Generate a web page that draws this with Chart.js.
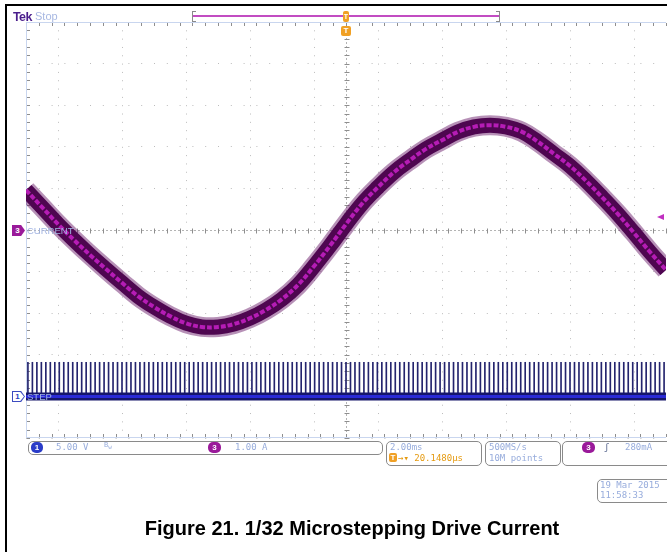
<!DOCTYPE html>
<html><head><meta charset="utf-8">
<script src="https://cdn.jsdelivr.net/npm/chart.js@4.4.1/dist/chart.umd.min.js"></script>
<style>
html,body{margin:0;padding:0;background:#fff;}
#wrap{position:relative;width:667px;height:552px;overflow:hidden;background:#fff;}
#c{position:absolute;left:0;top:0;}
.t{position:absolute;white-space:nowrap;font-family:'Liberation Sans',Arial,sans-serif;color:#a3b5e3;line-height:1;}
.m{font-family:'DejaVu Sans Mono',monospace;font-size:9px;color:#97acdc;}
.box{position:absolute;border:1px solid #8a8a8a;border-radius:5px;background:#fff;}
.badge{position:absolute;color:#fff;font:bold 8px 'Liberation Sans',sans-serif;text-align:center;line-height:11px;}
</style></head>
<body><div id="wrap">
<canvas id="c" width="667" height="552"></canvas>
<div style="position:absolute;left:5px;top:4px;width:700px;height:600px;border-top:2px solid #000;border-left:2px solid #000;"></div>

<div class="t" style="left:13px;top:10px;font:bold 12.5px 'Liberation Sans';color:#4b1e8c;letter-spacing:-0.6px">Tek</div>
<div class="t" style="left:35px;top:11px;font-size:11px;color:#a8b8e2">Stop</div>

<div style="position:absolute;left:193px;top:15px;width:306px;height:2px;background:#c24cc2"></div>
<div style="position:absolute;left:192px;top:11px;width:3px;height:9px;border:1px solid #8a8a8a;border-right:none"></div>
<div style="position:absolute;left:496px;top:11px;width:3px;height:9px;border:1px solid #8a8a8a;border-left:none"></div>
<div class="badge" style="left:343px;top:11px;width:6px;height:11px;background:#f0a024;border-radius:2px;line-height:11px;font-size:7px">T</div>
<div class="badge" style="left:341px;top:26px;width:10px;height:10px;background:#f0a024;border-radius:2px;line-height:10px">T</div>

<div class="badge" style="left:12px;top:225px;width:13px;height:11px;background:#9a1a9a;clip-path:polygon(0 0,70% 0,100% 50%,70% 100%,0 100%);text-indent:-2px">3</div>
<div class="t" style="left:27px;top:226px;font-size:9.5px">CURRENT</div>
<div style="position:absolute;left:657px;top:214px;width:0;height:0;border-right:7px solid #c030c0;border-top:3.5px solid transparent;border-bottom:3.5px solid transparent"></div>

<div class="badge" style="left:12px;top:391px;width:13px;height:11px;background:#3c4cc0;clip-path:polygon(0 0,70% 0,100% 50%,70% 100%,0 100%);"></div>
<div class="badge" style="left:13px;top:392px;width:11px;height:9px;background:#fff;color:#2a3cc0;clip-path:polygon(0 0,66% 0,100% 50%,66% 100%,0 100%);line-height:9px;text-indent:-2px">1</div>
<div class="t" style="left:27px;top:392px;font-size:9.5px">STEP</div>

<div class="box" style="left:28px;top:441px;width:353px;height:12px"></div>
<div class="badge" style="left:31px;top:442px;width:12px;height:11px;background:#2a3cc8;border-radius:5px">1</div>
<div class="t m" style="left:56px;top:443px">5.00 V</div>
<div class="t m" style="left:104px;top:442px;font-size:7px">B<sub style="font-size:6px">w</sub></div>
<div class="badge" style="left:208px;top:442px;width:13px;height:11px;background:#9a1a9a;border-radius:5px">3</div>
<div class="t m" style="left:235px;top:443px">1.00 A</div>

<div class="box" style="left:386px;top:441px;width:94px;height:23px"></div>
<div class="t m" style="left:390px;top:443px">2.00ms</div>
<div class="badge" style="left:389px;top:453px;width:8px;height:9px;background:#f0a024;border-radius:2px;line-height:9px">T</div>
<div class="t m" style="left:398px;top:454px;color:#e59a10">→▾ 20.1480µs</div>

<div class="box" style="left:485px;top:441px;width:74px;height:23px"></div>
<div class="t m" style="left:489px;top:443px">500MS/s</div>
<div class="t m" style="left:489px;top:454px">10M points</div>

<div class="box" style="left:562px;top:441px;width:110px;height:23px"></div>
<div class="badge" style="left:582px;top:442px;width:13px;height:11px;background:#9a1a9a;border-radius:5px">3</div>
<div class="t m" style="left:604px;top:443px;color:#55648c">ʃ</div>
<div class="t m" style="left:625px;top:443px">280mA</div>

<div class="box" style="left:597px;top:479px;width:80px;height:22px"></div>
<div class="t m" style="left:600px;top:481px">19 Mar 2015</div>
<div class="t m" style="left:600px;top:491px">11:58:33</div>

<div class="t" style="left:0;width:704px;text-align:center;top:517px;font:bold 20px 'Liberation Sans',Arial,sans-serif;color:#000">Figure 21. 1/32 Microstepping Drive Current</div>
</div>
<script>
// time axis in ms (2 ms/div, trigger at centre)
const timesMs = [-10,-9.5,-9,-8.5,-8,-7.5,-7,-6.5,-6,-5.5,-5,-4.5,-4,-3.5,-3,-2.5,-2,-1.5,-1,-0.5,0,0.5,1,1.5,2,2.5,3,3.5,4,4.5,5,5.5,6,6.5,7,7.5,8,8.5,9,9.5,10];
// CH3 CURRENT (A), 1.00 A/div
const currentA = [0.96,0.55,0.14,-0.24,-0.60,-0.94,-1.27,-1.59,-1.85,-2.07,-2.24,-2.33,-2.33,-2.26,-2.12,-1.92,-1.66,-1.32,-0.87,-0.38,0.14,0.63,1.03,1.39,1.68,1.95,2.16,2.36,2.48,2.52,2.48,2.36,2.12,1.83,1.54,1.18,0.79,0.38,-0.07,-0.53,-0.96];
// CH1 STEP pulse times (ms), 5.00 V/div
const stepTimesMs = [-9.94,-9.80,-9.66,-9.52,-9.38,-9.24,-9.10,-8.96,-8.82,-8.68,-8.54,-8.40,-8.26,-8.12,-7.98,-7.84,-7.70,-7.56,-7.42,-7.28,-7.14,-7.00,-6.86,-6.72,-6.58,-6.44,-6.30,-6.16,-6.02,-5.88,-5.74,-5.60,-5.46,-5.32,-5.18,-5.04,-4.90,-4.76,-4.62,-4.48,-4.34,-4.20,-4.06,-3.92,-3.78,-3.64,-3.50,-3.36,-3.22,-3.08,-2.94,-2.80,-2.66,-2.52,-2.38,-2.24,-2.10,-1.96,-1.82,-1.68,-1.54,-1.40,-1.26,-1.12,-0.98,-0.84,-0.70,-0.56,-0.42,-0.28,-0.14,0,0.14,0.28,0.42,0.56,0.70,0.84,0.98,1.12,1.26,1.40,1.54,1.68,1.82,1.96,2.10,2.24,2.38,2.52,2.66,2.80,2.94,3.08,3.22,3.36,3.50,3.64,3.78,3.92,4.06,4.20,4.34,4.48,4.62,4.76,4.90,5.04,5.18,5.32,5.46,5.60,5.74,5.88,6.02,6.16,6.30,6.44,6.58,6.72,6.86,7.00,7.14,7.28,7.42,7.56,7.70,7.84,7.98,8.12,8.26,8.40,8.54,8.68,8.82,8.96,9.10,9.24,9.38,9.52,9.66,9.80,9.94];
const stepHighV = 4.1;
const stepLowV = 0;
const xRangeMs = [-10, 10];

const curPts = timesMs.map((t,i)=>({x:t,y:currentA[i]}));
const pulsePts = stepTimesMs.map(t=>({x:t,y:stepHighV}));
const basePts = xRangeMs.map(t=>({x:t,y:stepLowV}));

const graticule = {
  id:'graticule',
  beforeDatasetsDraw(chart){
    const {ctx, chartArea:a, scales:{x,y}} = chart;
    ctx.save();
    const cx = Math.round(x.getPixelForValue(0))+0.5;
    const cy = Math.round(y.getPixelForValue(0))+0.5;
    ctx.strokeStyle='#b4b4b4'; ctx.lineWidth=1; ctx.setLineDash([2,2]);
    ctx.beginPath(); ctx.moveTo(a.left,cy); ctx.lineTo(a.right,cy); ctx.moveTo(cx,a.top); ctx.lineTo(cx,a.bottom); ctx.stroke();
    ctx.setLineDash([]);
    ctx.strokeStyle='#8e8e8e';
    ctx.beginPath();
    for(let v=-10; v<=10.001; v+=0.4){ const px=Math.round(x.getPixelForValue(v))+0.5; ctx.moveTo(px,cy-2); ctx.lineTo(px,cy+3);
      ctx.moveTo(px,a.top+1); ctx.lineTo(px,a.top+4); ctx.moveTo(px,a.bottom-4); ctx.lineTo(px,a.bottom-1);}
    for(let v=-5; v<=5.001; v+=0.2){ const py=Math.round(y.getPixelForValue(v))+0.5; ctx.moveTo(cx-2,py); ctx.lineTo(cx+3,py);
      ctx.moveTo(a.left+1,py); ctx.lineTo(a.left+4,py);}
    ctx.stroke();
    ctx.strokeStyle='#c9d6ef';
    ctx.beginPath();
    ctx.moveTo(a.left,Math.round(a.top)+0.5); ctx.lineTo(a.right,Math.round(a.top)+0.5);
    ctx.moveTo(Math.round(a.left)+0.5,a.top); ctx.lineTo(Math.round(a.left)+0.5,a.bottom);
    ctx.moveTo(a.left,Math.round(a.bottom)-0.5); ctx.lineTo(a.right,Math.round(a.bottom)-0.5);
    ctx.stroke();
    ctx.restore();
  }
};

new Chart(document.getElementById('c'), {
  type:'line',
  data:{datasets:[
    {label:'CURRENT core', data:curPts, borderColor:'#b51cb5', borderWidth:4, borderDash:[5,2], tension:0.4, pointRadius:0, order:0, yAxisID:'y', clip:0},
    {label:'CURRENT band', data:curPts, borderColor:'#4e0650', borderWidth:15, tension:0.4, pointRadius:0, order:1, yAxisID:'y', clip:0},
    {label:'CURRENT halo', data:curPts, borderColor:'rgba(95,10,95,0.45)', borderWidth:20, tension:0.4, pointRadius:0, order:2, yAxisID:'y', clip:0},
    {label:'STEP base core', data:basePts, borderColor:'#2a2ad6', borderWidth:3, pointRadius:0, order:3, yAxisID:'y1', clip:0},
    {label:'STEP base', data:basePts, borderColor:'#16166a', borderWidth:8, pointRadius:0, order:4, yAxisID:'y1', clip:0},
    {type:'bar', label:'STEP', data:pulsePts, backgroundColor:'#24246e', barThickness:1, order:5, yAxisID:'y1', xAxisID:'x'}
  ]},
  options:{
    responsive:false, animation:false, events:[],
    layout:{padding:{left:26,top:22,right:1,bottom:114}},
    plugins:{legend:{display:false}, tooltip:{enabled:false}},
    scales:{
      x:{type:'linear', min:-10, max:10, offset:false, ticks:{display:false, stepSize:2}, grid:{color:'#bcbcbc', lineWidth:1, drawTicks:false}, border:{display:false, dash:[1,7.32]}},
      y:{type:'linear', min:-5, max:5, ticks:{display:false, stepSize:1}, grid:{color:'#bcbcbc', lineWidth:1, drawTicks:false}, border:{display:false, dash:[1,11.8]}},
      y1:{type:'linear', display:false, min:-5, max:45}
    }
  },
  plugins:[graticule]
});
</script>
</body></html>
